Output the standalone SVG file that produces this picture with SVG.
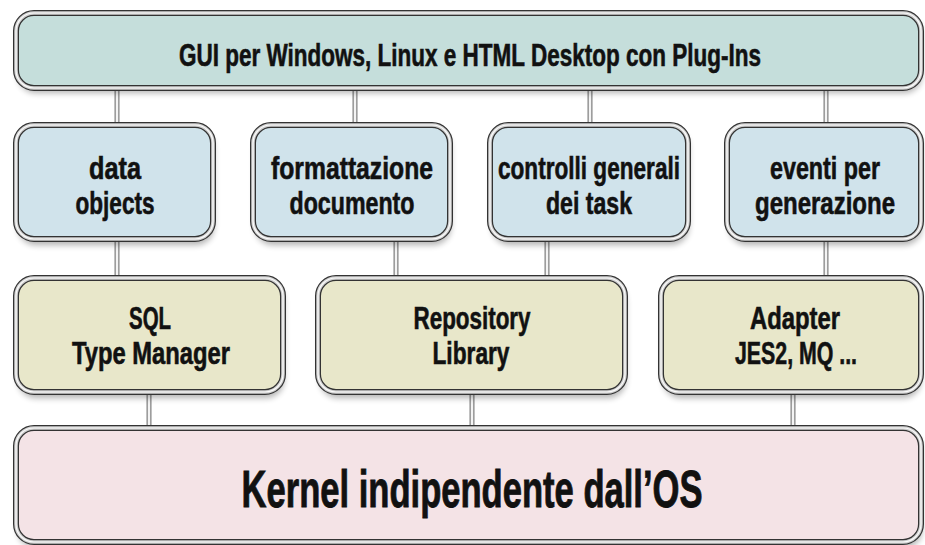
<svg xmlns="http://www.w3.org/2000/svg" width="925" height="545" viewBox="0 0 925 545">
  <defs>
    <filter id="shadow" x="-10%" y="-20%" width="120%" height="150%">
      <feGaussianBlur stdDeviation="3"/>
    </filter>
    <style>
      .sh { fill: #000; opacity: 0.3; filter: url(#shadow); }
      .o1 { fill: none; stroke: #333; stroke-width: 6; }
      .o2 { fill: none; stroke: #cfcfcf; stroke-width: 3.5; }
      .o3 { fill: none; stroke: #fafafa; stroke-width: 1.2; }
      .gui { fill: #c5dedb; }
      .mid { fill: #d0e3eb; }
      .lib { fill: #e8e7ca; }
      .ker { fill: #f4e3e6; }
      text { font-family: "Liberation Sans", Arial, sans-serif; font-weight: bold; fill: #111; stroke: #111; stroke-width: 0.6; text-anchor: middle; }
      .t { font-size: 31px; }
      .k { font-size: 52px; stroke-width: 0.9; }
      .c1 { stroke: #808080; stroke-width: 5; fill: none; }
      .c2 { stroke: #f4f4f4; stroke-width: 2.5; fill: none; }
    </style>
  </defs>

  <g id="connectors">
    <g class="c1">
      <line x1="117" y1="88" x2="117" y2="126"/>
      <line x1="355" y1="88" x2="355" y2="126"/>
      <line x1="590" y1="88" x2="590" y2="126"/>
      <line x1="826" y1="88" x2="826" y2="126"/>
      <line x1="117" y1="239" x2="117" y2="279"/>
      <line x1="396" y1="239" x2="396" y2="279"/>
      <line x1="547" y1="239" x2="547" y2="279"/>
      <line x1="826" y1="239" x2="826" y2="279"/>
      <line x1="149" y1="392" x2="149" y2="429"/>
      <line x1="472" y1="392" x2="472" y2="429"/>
      <line x1="793" y1="392" x2="793" y2="429"/>
    </g>
    <g class="c2">
      <line x1="117" y1="88" x2="117" y2="126"/>
      <line x1="355" y1="88" x2="355" y2="126"/>
      <line x1="590" y1="88" x2="590" y2="126"/>
      <line x1="826" y1="88" x2="826" y2="126"/>
      <line x1="117" y1="239" x2="117" y2="279"/>
      <line x1="396" y1="239" x2="396" y2="279"/>
      <line x1="547" y1="239" x2="547" y2="279"/>
      <line x1="826" y1="239" x2="826" y2="279"/>
      <line x1="149" y1="392" x2="149" y2="429"/>
      <line x1="472" y1="392" x2="472" y2="429"/>
      <line x1="793" y1="392" x2="793" y2="429"/>
    </g>
  </g>

  <g id="gui">
    <rect class="sh" x="18" y="18" width="904" height="75" rx="18"/>
    <rect class="gui" x="16" y="13" width="905" height="75" rx="18"/>
    <rect class="o1" x="16" y="13" width="905" height="75" rx="18"/>
    <rect class="o2" x="16" y="13" width="905" height="75" rx="18"/>
    <rect class="o3" x="16" y="13" width="905" height="75" rx="18"/>
    <text class="t" x="470" y="66" textLength="582" lengthAdjust="spacingAndGlyphs">GUI per Windows, Linux e HTML Desktop con Plug-Ins</text>
  </g>

  <g id="data-objects">
    <rect class="sh" x="18" y="130" width="196" height="115" rx="18"/>
    <rect class="mid" x="16" y="125" width="197" height="114" rx="18"/>
    <rect class="o1" x="16" y="125" width="197" height="114" rx="18"/>
    <rect class="o2" x="16" y="125" width="197" height="114" rx="18"/>
    <rect class="o3" x="16" y="125" width="197" height="114" rx="18"/>
    <text class="t" x="115" y="179" textLength="52" lengthAdjust="spacingAndGlyphs">data</text>
    <text class="t" x="115" y="214" textLength="79" lengthAdjust="spacingAndGlyphs">objects</text>
  </g>

  <g id="formattazione">
    <rect class="sh" x="255" y="130" width="196" height="115" rx="18"/>
    <rect class="mid" x="253" y="125" width="197" height="114" rx="18"/>
    <rect class="o1" x="253" y="125" width="197" height="114" rx="18"/>
    <rect class="o2" x="253" y="125" width="197" height="114" rx="18"/>
    <rect class="o3" x="253" y="125" width="197" height="114" rx="18"/>
    <text class="t" x="352" y="179" textLength="162" lengthAdjust="spacingAndGlyphs">formattazione</text>
    <text class="t" x="352" y="214" textLength="125" lengthAdjust="spacingAndGlyphs">documento</text>
  </g>

  <g id="controlli">
    <rect class="sh" x="492" y="130" width="197" height="115" rx="18"/>
    <rect class="mid" x="490" y="125" width="198" height="114" rx="18"/>
    <rect class="o1" x="490" y="125" width="198" height="114" rx="18"/>
    <rect class="o2" x="490" y="125" width="198" height="114" rx="18"/>
    <rect class="o3" x="490" y="125" width="198" height="114" rx="18"/>
    <text class="t" x="589" y="179" textLength="182" lengthAdjust="spacingAndGlyphs">controlli generali</text>
    <text class="t" x="589" y="214" textLength="86" lengthAdjust="spacingAndGlyphs">dei task</text>
  </g>

  <g id="eventi">
    <rect class="sh" x="729" y="130" width="193" height="115" rx="18"/>
    <rect class="mid" x="727" y="125" width="194" height="114" rx="18"/>
    <rect class="o1" x="727" y="125" width="194" height="114" rx="18"/>
    <rect class="o2" x="727" y="125" width="194" height="114" rx="18"/>
    <rect class="o3" x="727" y="125" width="194" height="114" rx="18"/>
    <text class="t" x="825" y="179" textLength="110" lengthAdjust="spacingAndGlyphs">eventi per</text>
    <text class="t" x="825" y="214" textLength="140" lengthAdjust="spacingAndGlyphs">generazione</text>
  </g>

  <g id="sql">
    <rect class="sh" x="18" y="283" width="266" height="115" rx="18"/>
    <rect class="lib" x="16" y="278" width="267" height="114" rx="18"/>
    <rect class="o1" x="16" y="278" width="267" height="114" rx="18"/>
    <rect class="o2" x="16" y="278" width="267" height="114" rx="18"/>
    <rect class="o3" x="16" y="278" width="267" height="114" rx="18"/>
    <text class="t" x="150" y="329" textLength="42" lengthAdjust="spacingAndGlyphs">SQL</text>
    <text class="t" x="151" y="364" textLength="158" lengthAdjust="spacingAndGlyphs">Type Manager</text>
  </g>

  <g id="repository">
    <rect class="sh" x="320" y="283" width="306" height="115" rx="18"/>
    <rect class="lib" x="318" y="278" width="307" height="114" rx="18"/>
    <rect class="o1" x="318" y="278" width="307" height="114" rx="18"/>
    <rect class="o2" x="318" y="278" width="307" height="114" rx="18"/>
    <rect class="o3" x="318" y="278" width="307" height="114" rx="18"/>
    <text class="t" x="472" y="329" textLength="117" lengthAdjust="spacingAndGlyphs">Repository</text>
    <text class="t" x="471" y="364" textLength="77" lengthAdjust="spacingAndGlyphs">Library</text>
  </g>

  <g id="adapter">
    <rect class="sh" x="663" y="283" width="258" height="115" rx="18"/>
    <rect class="lib" x="661" y="278" width="260" height="114" rx="18"/>
    <rect class="o1" x="661" y="278" width="260" height="114" rx="18"/>
    <rect class="o2" x="661" y="278" width="260" height="114" rx="18"/>
    <rect class="o3" x="661" y="278" width="260" height="114" rx="18"/>
    <text class="t" x="795" y="329" textLength="90" lengthAdjust="spacingAndGlyphs">Adapter</text>
    <text class="t" x="796" y="364" textLength="122" lengthAdjust="spacingAndGlyphs">JES2, MQ ...</text>
  </g>

  <g id="kernel">
    <rect class="sh" x="18" y="433" width="904" height="115" rx="18"/>
    <rect class="ker" x="16" y="428" width="905" height="114" rx="18"/>
    <rect class="o1" x="16" y="428" width="905" height="114" rx="18"/>
    <rect class="o2" x="16" y="428" width="905" height="114" rx="18"/>
    <rect class="o3" x="16" y="428" width="905" height="114" rx="18"/>
    <text class="k" x="472" y="507" textLength="461" lengthAdjust="spacingAndGlyphs">Kernel indipendente dall’OS</text>
  </g>
</svg>
